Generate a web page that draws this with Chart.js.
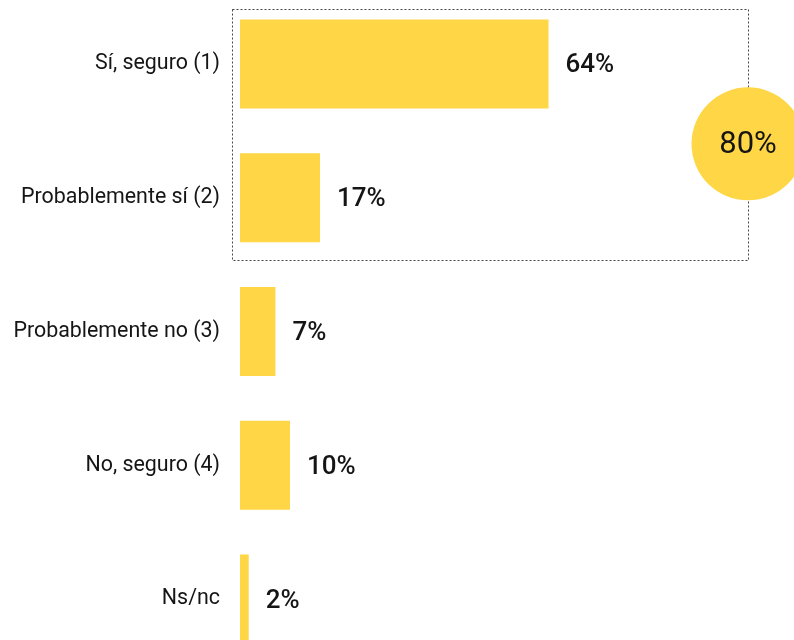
<!DOCTYPE html>
<html>
<head>
<meta charset="utf-8">
<script src="https://cdn.jsdelivr.net/npm/chart.js@4"></script>
<style>
    html, body {
        margin: 0;
        padding: 0;
        background: #ffffff;
        overflow: hidden;
        width: 794px;
        height: 640px;
    }

    #wrap {
        position: absolute;
        left: 0;
        top: -3px;
    }
</style>
</head>
<body>
<div id="wrap">
    <canvas id="chart" width="794" height="669"></canvas>
</div>
<script>
const categories = [
    "Sí, seguro (1)",
    "Probablemente sí (2)",
    "Probablemente no (3)",
    "No, seguro (4)",
    "Ns/nc"
];

const values = [63.6, 16.5, 7.3, 10.3, 1.8];

const valueLabels = ["64%", "17%", "7%", "10%", "2%"];

const highlightLabel = "80%";

const yellow = "#FFD645";
const textColor = "#151515";

// value text next to each bar
const valueLabelPlugin = {
    id: "valueLabels",
    afterDatasetsDraw(chart) {
        const ctx = chart.ctx;
        const bars = chart.getDatasetMeta(0).data;

        ctx.save();
        ctx.font = "500 26px Roboto";
        ctx.fillStyle = textColor;
        ctx.textAlign = "left";
        ctx.textBaseline = "middle";

        bars.forEach((bar, i) => {
            ctx.fillText(valueLabels[i], bar.x + 17, bar.y + 2);
        });

        ctx.restore();
    }
};

// dashed box round the first two answers, plus the 80% bubble
const highlightPlugin = {
    id: "highlight",
    afterDraw(chart) {
        const ctx = chart.ctx;
        const area = chart.chartArea;
        const bars = chart.getDatasetMeta(0).data;
        const first = bars[0];
        const second = bars[1];

        const half = first.height / 2;
        const left = area.left - 8;
        const right = area.right - 46;
        const top = first.y - half - 11;
        const bottom = second.y + half + 17;

        ctx.save();
        ctx.strokeStyle = "#444444";
        ctx.lineWidth = 1;
        ctx.setLineDash([2, 2]);
        ctx.strokeRect(
            Math.round(left) + 0.5,
            Math.round(top) + 0.5,
            Math.round(right - left),
            Math.round(bottom - top)
        );
        ctx.setLineDash([]);

        const cy = (first.y + second.y) / 2 + 13;

        ctx.beginPath();
        ctx.arc(right, cy, 56.5, 0, Math.PI * 2);
        ctx.fillStyle = yellow;
        ctx.fill();

        ctx.font = "400 31px Roboto";
        ctx.fillStyle = textColor;
        ctx.textAlign = "center";
        ctx.textBaseline = "middle";
        ctx.fillText(highlightLabel, right, cy + 1);
        ctx.restore();
    }
};

new Chart(document.getElementById("chart"), {
    type: "bar",
    data: {
        labels: categories,
        datasets: [
            {
                data: values,
                backgroundColor: yellow,
                borderWidth: 0,
                categoryPercentage: 1,
                barPercentage: 0.665
            }
        ]
    },
    options: {
        indexAxis: "y",
        responsive: false,
        animation: false,
        devicePixelRatio: 1,
        layout: {
            padding: 0
        },
        plugins: {
            legend: { display: false },
            tooltip: { enabled: false }
        },
        scales: {
            x: {
                display: false,
                min: 0,
                max: 114.2
            },
            y: {
                afterFit(scale) {
                    scale.width = 240;
                },
                // invisible tick marks give the 20px gap before the labels
                grid: {
                    display: true,
                    drawOnChartArea: false,
                    drawTicks: true,
                    tickLength: 20,
                    color: "rgba(0,0,0,0)"
                },
                border: { display: false },
                ticks: {
                    padding: 0,
                    autoSkip: false,
                    color: textColor,
                    font: {
                        family: "Roboto",
                        size: 21.4,
                        lineHeight: 0.01
                    }
                }
            }
        }
    },
    plugins: [valueLabelPlugin, highlightPlugin]
});
</script>
</body>
</html>
